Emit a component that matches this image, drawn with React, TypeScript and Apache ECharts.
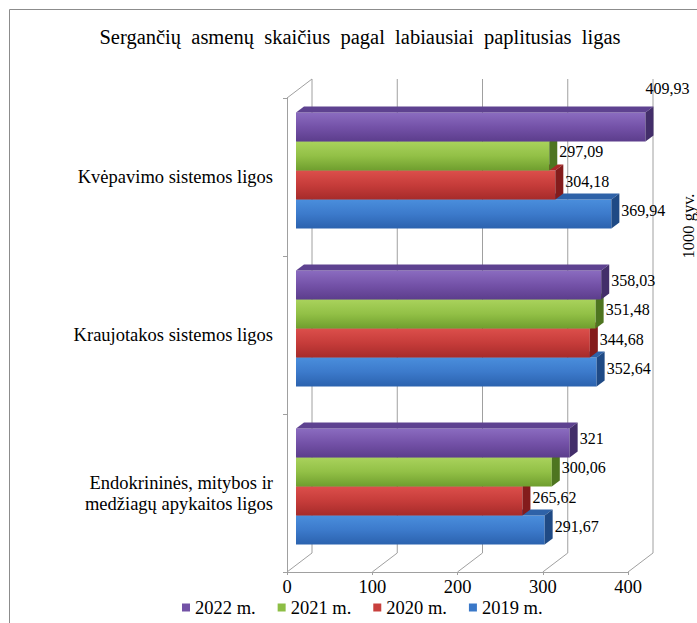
import React, { useEffect, useRef } from "react";
import * as echarts from "echarts";

const categories = [
  "Kvėpavimo sistemos ligos",
  "Kraujotakos sistemos ligos",
  "Endokrininės, mitybos ir\nmedžiagų apykaitos ligos",
];
const years = ["2019 m.", "2020 m.", "2021 m.", "2022 m."];
const v2019 = [369.94, 352.64, 291.67];
const v2020 = [304.18, 344.68, 265.62];
const v2021 = [297.09, 351.48, 300.06];
const v2022 = [409.93, 358.03, 321];
const xTicks = [0, 100, 200, 300, 400];
const legendOrder = ["2022 m.", "2021 m.", "2020 m.", "2019 m."];
const titleText = "Sergančių  asmenų  skaičius  pagal  labiausiai  paplitusias  ligas";
const unitText = "1000 gyv.";

const FONT = "Liberation Serif";

const palettes = [
  { base: "#3A78C8", stops: ["#4A8EDC", "#3C7ACB", "#2B62AE"], top: "#2E62A8", side: "#1F4A85" },
  { base: "#C8403D", stops: ["#DC4F4B", "#C63C3A", "#A62B2A"], top: "#A92A28", side: "#841C1C" },
  { base: "#8DBE45", stops: ["#A9D25C", "#92C046", "#6F9E2E"], top: "#6C9B2D", side: "#4E7520" },
  { base: "#7352A6", stops: ["#8B6CC0", "#7452A8", "#5C3D8C"], top: "#5E4290", side: "#432E6A" },
];

const seriesValues = [v2019, v2020, v2021, v2022];

const fmt = (v: number) => String(v).replace(".", ",");

function makeBarRender(slot: number) {
  const pal = palettes[slot];
  return (params: any, api: any) => {
    const val = api.value(0);
    const cat = api.value(1);
    const p0 = api.coord([0, cat]);
    const p1 = api.coord([val, cat]);
    const band = api.size([0, 1])[1];
    const bh = (band * 0.735) / 4;
    const cy = p0[1] - 6.5;
    const yTop = cy - 2 * bh + (3 - slot) * bh;
    const xL = p0[0] + 9;
    const xR = p1[0] + 9;
    const dx = 8;
    const dy = -6;
    const text = fmt(val);
    let lx = xR + dx + 2;
    let ly = yTop + bh / 2 - 4;
    if (lx + text.length * 8 > 694) {
      lx = xR;
      ly = yTop + dy - 18;
    }
    return {
      type: "group",
      children: [
        {
          type: "rect",
          shape: { x: xL, y: yTop, width: xR - xL, height: bh },
          style: {
            fill: {
              type: "linear",
              x: 0,
              y: 0,
              x2: 0,
              y2: 1,
              colorStops: [
                { offset: 0, color: pal.stops[0] },
                { offset: 0.5, color: pal.stops[1] },
                { offset: 1, color: pal.stops[2] },
              ],
            },
          },
        },
        {
          type: "polygon",
          shape: {
            points: [
              [xL, yTop],
              [xR, yTop],
              [xR + dx, yTop + dy],
              [xL + dx, yTop + dy],
            ],
          },
          style: { fill: pal.top },
        },
        {
          type: "polygon",
          shape: {
            points: [
              [xR, yTop],
              [xR + dx, yTop + dy],
              [xR + dx, yTop + dy + bh],
              [xR, yTop + bh],
            ],
          },
          style: { fill: pal.side },
        },
        {
          type: "text",
          z2: 100,
          style: {
            text,
            x: lx,
            y: ly,
            fill: "#000",
            fontSize: 16,
            fontFamily: FONT,
            align: "left",
            verticalAlign: "middle",
          },
        },
      ],
    };
  };
}

function wallsRender(params: any, api: any) {
  const cs = params.coordSys;
  const v = api.value(0);
  const x = api.coord([v, 0])[0];
  const bottom = cs.y + cs.height;
  const ddx = 25;
  const ddy = -19;
  const stroke = { stroke: "#a0a0a0", lineWidth: 1 };
  const children: any[] = [
    {
      type: "line",
      shape: { x1: x + ddx, y1: cs.y + ddy, x2: x + ddx, y2: bottom + ddy },
      style: stroke,
    },
    {
      type: "line",
      shape: { x1: x, y1: bottom, x2: x + ddx, y2: bottom + ddy },
      style: stroke,
    },
  ];
  if (v === 0) {
    children.push({
      type: "line",
      shape: { x1: x, y1: cs.y, x2: x + ddx, y2: cs.y + ddy },
      style: stroke,
    });
  }
  return { type: "group", children };
}

export default function App() {
  const ref = useRef<HTMLDivElement>(null);
  useEffect(() => {
    document.body.style.margin = "0";
    if (!ref.current) return;
    const chart = echarts.init(ref.current, undefined, { renderer: "svg" });
    const barSeries = years.map((y, i) => ({
      name: y,
      type: "custom",
      renderItem: makeBarRender(i),
      itemStyle: { color: palettes[i].base },
      encode: { x: 0, y: 1 },
      data: seriesValues[i].map((v, c) => [v, c]),
      z: 3,
    }));
    chart.setOption({
      animation: false,
      textStyle: { fontFamily: FONT },
      grid: { left: 287, top: 98, width: 341, height: 474 },
      xAxis: {
        type: "value",
        min: 0,
        max: 400,
        interval: 100,
        axisLine: { show: true, lineStyle: { color: "#a0a0a0" } },
        axisTick: { show: true, length: 3, lineStyle: { color: "#a0a0a0" } },
        splitLine: { show: false },
        axisLabel: { color: "#000", fontSize: 18.5, fontFamily: FONT, margin: 5 },
      },
      yAxis: {
        type: "category",
        inverse: true,
        data: categories,
        axisLine: { show: true, lineStyle: { color: "#a0a0a0" } },
        axisTick: { show: true, length: 4, lineStyle: { color: "#a0a0a0" } },
        splitLine: { show: false },
        axisLabel: {
          color: "#000",
          fontSize: 18.5,
          fontFamily: FONT,
          margin: 14,
          lineHeight: 21,
        },
      },
      legend: {
        data: legendOrder,
        left: 182,
        top: 598,
        padding: 0,
        itemWidth: 8,
        itemHeight: 8,
        itemGap: 22,
        icon: "rect",
        textStyle: { color: "#000", fontSize: 18.5, fontFamily: FONT },
      },
      graphic: [
        {
          type: "rect",
          silent: true,
          shape: { x: 9.5, y: 9.5, width: 720, height: 720 },
          style: { fill: "none", stroke: "#8c8c8c", lineWidth: 1 },
        },
        {
          type: "text",
          x: 360,
          y: 37,
          style: {
            text: titleText,
            fill: "#000",
            fontSize: 20.5,
            fontFamily: FONT,
            align: "center",
            verticalAlign: "middle",
          },
        },
        {
          type: "text",
          x: 688,
          y: 226,
          rotation: Math.PI / 2,
          style: {
            text: unitText,
            fill: "#000",
            fontSize: 16.5,
            fontFamily: FONT,
            align: "center",
            verticalAlign: "middle",
          },
        },
      ],
      series: [
        {
          name: "walls",
          type: "custom",
          silent: true,
          renderItem: wallsRender,
          encode: { x: 0, y: 1 },
          data: xTicks.map((v) => [v, 0]),
          z: 1,
        },
        ...barSeries,
      ],
    });
    return () => chart.dispose();
  }, []);
  return <div ref={ref} style={{ width: 697, height: 623 }} />;
}
